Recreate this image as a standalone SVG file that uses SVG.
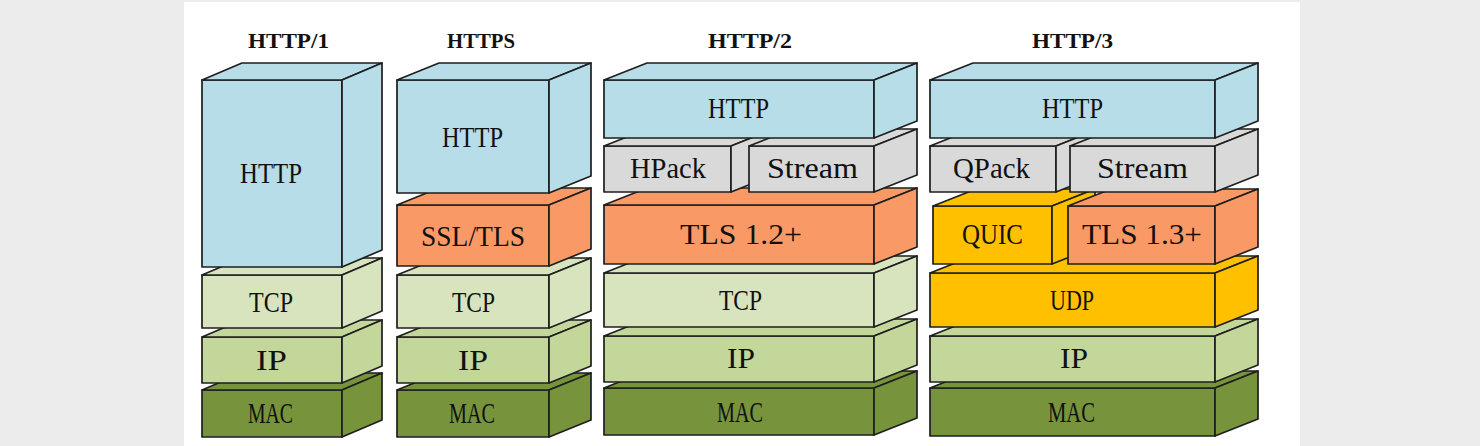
<svg xmlns="http://www.w3.org/2000/svg" width="1480" height="446" viewBox="0 0 1480 446">
<style>
.f{stroke:#1e1e1e;stroke-width:1.7;stroke-linejoin:round}
.blue{fill:#b7dde8}.grey{fill:#d9d9d9}.orange{fill:#f99a66}.lg{fill:#d8e4bd}.mg{fill:#c4d79b}.dg{fill:#77933c}.gold{fill:#ffc000}
.t{font-family:"Liberation Serif","Times New Roman",serif;font-size:30px;fill:#111;text-anchor:middle}
.h{font-family:"Liberation Serif","Times New Roman",serif;font-size:22px;font-weight:bold;fill:#111;text-anchor:middle}
</style>
<rect x="0" y="0" width="1480" height="446" fill="#ececec"/>
<rect x="184" y="2" width="1116" height="444" fill="#ffffff"/>

<g id="titles">
<text class="h" x="288.5" y="48" textLength="81" lengthAdjust="spacingAndGlyphs">HTTP/1</text>
<text class="h" x="481" y="48" textLength="68" lengthAdjust="spacingAndGlyphs">HTTPS</text>
<text class="h" x="750" y="48" textLength="84" lengthAdjust="spacingAndGlyphs">HTTP/2</text>
<text class="h" x="1072.5" y="48" textLength="81" lengthAdjust="spacingAndGlyphs">HTTP/3</text>
</g>

<!-- Column 1: HTTP/1 -->
<g id="c1-mac" class="f dg"><rect x="202" y="390" width="140" height="47"/><polygon points="202,390 242,373 382,373 342,390"/><polygon points="342,390 382,373 382,420 342,437"/><text class="t" x="270.5" y="423" stroke="none" textLength="45" lengthAdjust="spacingAndGlyphs">MAC</text></g>
<g id="c1-ip" class="f mg"><rect x="202" y="337" width="140" height="46"/><polygon points="202,337 242,320 382,320 342,337"/><polygon points="342,337 382,320 382,366 342,383"/><text class="t" x="271.5" y="370" stroke="none" textLength="31" lengthAdjust="spacingAndGlyphs">IP</text></g>
<g id="c1-tcp" class="f lg"><rect x="202" y="275" width="140" height="53"/><polygon points="202,275 242,258 382,258 342,275"/><polygon points="342,275 382,258 382,311 342,328"/><text class="t" x="271" y="312" stroke="none" textLength="44" lengthAdjust="spacingAndGlyphs">TCP</text></g>
<g id="c1-http" class="f blue"><rect x="202" y="80" width="140" height="187"/><polygon points="202,80 242,63 382,63 342,80"/><polygon points="342,80 382,63 382,250 342,267"/><text class="t" x="271" y="183" stroke="none" textLength="62" lengthAdjust="spacingAndGlyphs">HTTP</text></g>

<!-- Column 2: HTTPS -->
<g id="c2-mac" class="f dg"><rect x="397" y="390" width="152" height="47"/><polygon points="397,390 439,373 591,373 549,390"/><polygon points="549,390 591,373 591,420 549,437"/><text class="t" x="472" y="423" stroke="none" textLength="46" lengthAdjust="spacingAndGlyphs">MAC</text></g>
<g id="c2-ip" class="f mg"><rect x="397" y="337" width="152" height="46"/><polygon points="397,337 439,320 591,320 549,337"/><polygon points="549,337 591,320 591,366 549,383"/><text class="t" x="473" y="370" stroke="none" textLength="30" lengthAdjust="spacingAndGlyphs">IP</text></g>
<g id="c2-tcp" class="f lg"><rect x="397" y="275" width="152" height="53"/><polygon points="397,275 439,258 591,258 549,275"/><polygon points="549,275 591,258 591,311 549,328"/><text class="t" x="473.5" y="312" stroke="none" textLength="43" lengthAdjust="spacingAndGlyphs">TCP</text></g>
<g id="c2-ssl" class="f orange"><rect x="397" y="205" width="152" height="61"/><polygon points="397,205 439,188 591,188 549,205"/><polygon points="549,205 591,188 591,249 549,266"/><text class="t" x="473" y="246" stroke="none" textLength="104" lengthAdjust="spacingAndGlyphs">SSL/TLS</text></g>
<g id="c2-http" class="f blue"><rect x="397" y="80" width="152" height="113"/><polygon points="397,80 439,63 591,63 549,80"/><polygon points="549,80 591,63 591,176 549,193"/><text class="t" x="472.5" y="147" stroke="none" textLength="61" lengthAdjust="spacingAndGlyphs">HTTP</text></g>

<!-- Column 3: HTTP/2 -->
<g id="c3-mac" class="f dg"><rect x="604" y="388" width="270" height="47"/><polygon points="604,388 647,371 917,371 874,388"/><polygon points="874,388 917,371 917,418 874,435"/><text class="t" x="740" y="422" stroke="none" textLength="46" lengthAdjust="spacingAndGlyphs">MAC</text></g>
<g id="c3-ip" class="f mg"><rect x="604" y="336" width="270" height="46"/><polygon points="604,336 647,319 917,319 874,336"/><polygon points="874,336 917,319 917,365 874,382"/><text class="t" x="741" y="368" stroke="none" textLength="28" lengthAdjust="spacingAndGlyphs">IP</text></g>
<g id="c3-tcp" class="f lg"><rect x="604" y="273" width="270" height="54"/><polygon points="604,273 647,256 917,256 874,273"/><polygon points="874,273 917,256 917,310 874,327"/><text class="t" x="740.5" y="310" stroke="none" textLength="43" lengthAdjust="spacingAndGlyphs">TCP</text></g>
<g id="c3-tls" class="f orange"><rect x="604" y="205" width="270" height="59"/><polygon points="604,205 647,188 917,188 874,205"/><polygon points="874,205 917,188 917,247 874,264"/><text class="t" x="741" y="244" stroke="none" textLength="122" lengthAdjust="spacingAndGlyphs">TLS 1.2+</text></g>
<g id="c3-hpack" class="f grey"><rect x="604" y="146" width="127" height="46"/><polygon points="604,146 647,129 774,129 731,146"/><polygon points="731,146 774,129 774,175 731,192"/><text class="t" x="668" y="178" stroke="none" textLength="76" lengthAdjust="spacingAndGlyphs">HPack</text></g>
<g id="c3-stream" class="f grey"><rect x="749" y="146" width="125" height="46"/><polygon points="749,146 792,129 917,129 874,146"/><polygon points="874,146 917,129 917,175 874,192"/><text class="t" x="812.5" y="178" stroke="none" textLength="91" lengthAdjust="spacingAndGlyphs">Stream</text></g>
<g id="c3-http" class="f blue"><rect x="604" y="80" width="270" height="58"/><polygon points="604,80 647,63 917,63 874,80"/><polygon points="874,80 917,63 917,121 874,138"/><text class="t" x="738.5" y="118" stroke="none" textLength="61" lengthAdjust="spacingAndGlyphs">HTTP</text></g>

<!-- Column 4: HTTP/3 -->
<g id="c4-mac" class="f dg"><rect x="930" y="388" width="285" height="48"/><polygon points="930,388 973,371 1258,371 1215,388"/><polygon points="1215,388 1258,371 1258,419 1215,436"/><text class="t" x="1071.5" y="422" stroke="none" textLength="47" lengthAdjust="spacingAndGlyphs">MAC</text></g>
<g id="c4-ip" class="f mg"><rect x="930" y="336" width="285" height="46"/><polygon points="930,336 973,319 1258,319 1215,336"/><polygon points="1215,336 1258,319 1258,365 1215,382"/><text class="t" x="1074" y="368" stroke="none" textLength="28" lengthAdjust="spacingAndGlyphs">IP</text></g>
<g id="c4-udp" class="f gold"><rect x="930" y="273" width="285" height="54"/><polygon points="930,273 973,256 1258,256 1215,273"/><polygon points="1215,273 1258,256 1258,310 1215,327"/><text class="t" x="1072" y="310" stroke="none" textLength="44" lengthAdjust="spacingAndGlyphs">UDP</text></g>
<g id="c4-quic" class="f gold"><rect x="933" y="206" width="119" height="58"/><polygon points="933,206 976,189 1095,189 1052,206"/><polygon points="1052,206 1095,189 1095,247 1052,264"/><text class="t" x="992.5" y="244" stroke="none" textLength="61" lengthAdjust="spacingAndGlyphs">QUIC</text></g>
<g id="c4-tls" class="f orange"><rect x="1068" y="206" width="147" height="58"/><polygon points="1068,206 1111,189 1258,189 1215,206"/><polygon points="1215,206 1258,189 1258,247 1215,264"/><text class="t" x="1142" y="244" stroke="none" textLength="120" lengthAdjust="spacingAndGlyphs">TLS 1.3+</text></g>
<g id="c4-qpack" class="f grey"><rect x="930" y="146" width="126" height="46"/><polygon points="930,146 973,129 1099,129 1056,146"/><polygon points="1056,146 1099,129 1099,175 1056,192"/><text class="t" x="991.5" y="178" stroke="none" textLength="77" lengthAdjust="spacingAndGlyphs">QPack</text></g>
<g id="c4-stream" class="f grey"><rect x="1070" y="146" width="145" height="46"/><polygon points="1070,146 1113,129 1258,129 1215,146"/><polygon points="1215,146 1258,129 1258,175 1215,192"/><text class="t" x="1142.5" y="178" stroke="none" textLength="91" lengthAdjust="spacingAndGlyphs">Stream</text></g>
<g id="c4-http" class="f blue"><rect x="930" y="80" width="285" height="58"/><polygon points="930,80 973,63 1258,63 1215,80"/><polygon points="1215,80 1258,63 1258,121 1215,138"/><text class="t" x="1072.5" y="118" stroke="none" textLength="61" lengthAdjust="spacingAndGlyphs">HTTP</text></g>

<g id="connectors"></g>
</svg>
